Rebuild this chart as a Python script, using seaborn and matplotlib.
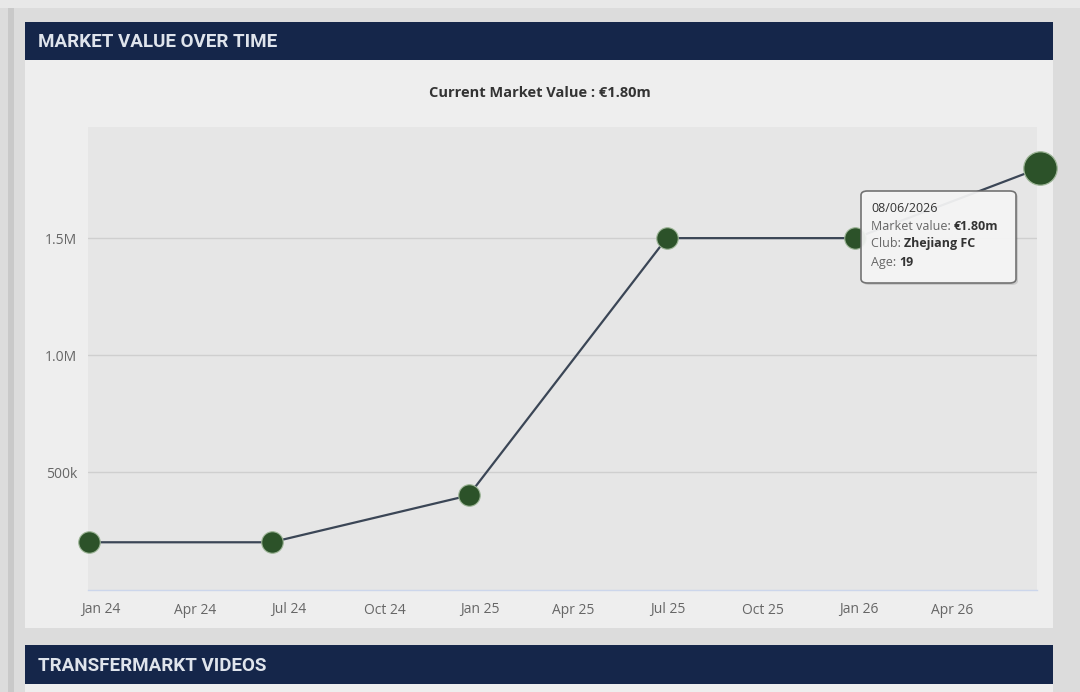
import matplotlib
matplotlib.use("Agg")
import matplotlib.pyplot as plt
from matplotlib.patches import Rectangle, FancyBboxPatch
import seaborn as sns
import pandas as pd

# ---------------- data ----------------
dates = ["2023-12-21", "2024-06-14", "2024-12-21", "2025-06-30", "2025-12-29", "2026-06-25"]
values = [200000, 200000, 400000, 1500000, 1500000, 1800000]
xtick_dates = ["2024-01-01", "2024-04-01", "2024-07-01", "2024-10-01", "2025-01-01",
               "2025-04-01", "2025-07-01", "2025-10-01", "2026-01-01", "2026-04-01"]
xtick_labels = ["Jan 24", "Apr 24", "Jul 24", "Oct 24", "Jan 25",
                "Apr 25", "Jul 25", "Oct 25", "Jan 26", "Apr 26"]
ytick_values = [500000, 1000000, 1500000]
ytick_labels = ["500k", "1.0M", "1.5M"]
chart_title = "Current Market Value : €1.80m"
header_top = "MARKET VALUE OVER TIME"
header_bottom = "TRANSFERMARKT VIDEOS"
tooltip_date = "08/06/2026"
tooltip_rows = [("Market value: ", "€1.80m"), ("Club: ", "Zhejiang FC"), ("Age: ", "19")]

df = pd.DataFrame({"date": pd.to_datetime(dates), "value": values})

# ---------------- style ----------------
sns.set_theme(style="white")
plt.rcParams["font.family"] = ["Open Sans", "DejaVu Sans"]

W, H = 1080, 692
fig = plt.figure(figsize=(W / 100, H / 100), dpi=100)
fig.patch.set_facecolor("#dcdcdc")


def fx(x):
    return x / W


def fy(y):
    return 1 - y / H


def rect(x0, y0, x1, y1, color, z=-5):
    fig.patches.append(Rectangle((fx(x0), fy(y1)), fx(x1) - fx(x0), fy(y0) - fy(y1),
                                 transform=fig.transFigure, facecolor=color,
                                 edgecolor="none", zorder=z))


# page pieces
rect(0, 0, W, 8, "#e8e8e8")
rect(8, 8, 14, H, "#c9c9c9")
rect(25, 22, 1053, 628, "#eeeeee")
rect(25, 22, 1053, 60, "#15264a")
rect(25, 645, 1053, 684, "#15264a")
rect(25, 684, 1053, H, "#eeeeee")

head_font = dict(family=["Roboto", "DejaVu Sans"], fontsize=13.5)
fig.text(fx(38), fy(42), header_top, color="#dfe4ec", fontweight="bold",
         va="center", ha="left", **head_font)
fig.text(fx(38), fy(666), header_bottom, color="#dfe4ec", fontweight="bold",
         va="center", ha="left", **head_font)

fig.text(fx(540), fy(93), chart_title, color="#333333", fontweight="bold",
         fontsize=10.5, ha="center", va="center")

# ---------------- axes ----------------
ax = fig.add_axes([fx(88), fy(590), fx(1037) - fx(88), fy(127) - fy(590)])
ax.set_zorder(1)
ax.set_facecolor("#e6e6e6")

sns.lineplot(data=df, x="date", y="value", ax=ax, color="#3b4656", linewidth=1.6,
             marker="o", markersize=15.5, markerfacecolor="#2c5229",
             markeredgecolor="#9db597", markeredgewidth=0.8, zorder=3, clip_on=False)
last = df.iloc[[-1]]
sns.scatterplot(data=last, x="date", y="value", ax=ax, s=580, color="#2c5229",
                edgecolor="#9db597", linewidth=0.9, zorder=4, clip_on=False)

ax.set_xlim(pd.Timestamp("2023-12-20"), pd.Timestamp("2026-06-22"))
ax.set_ylim(-4000, 1975000)

ax.set_xticks(pd.to_datetime(xtick_dates))
ax.set_xticklabels(xtick_labels)
ax.set_yticks(ytick_values)
ax.set_yticklabels(ytick_labels)
ax.set_xlabel("")
ax.set_ylabel("")

for s in ["top", "right", "left"]:
    ax.spines[s].set_visible(False)
ax.spines["bottom"].set_color("#ccd6eb")
ax.spines["bottom"].set_linewidth(1)

ax.grid(axis="y", color="#cfcfcf", linewidth=1)
ax.grid(axis="x", visible=False)
ax.set_axisbelow(True)

ax.tick_params(axis="x", colors="#ccd6eb", length=5, width=1, direction="out",
               labelcolor="#666666", labelsize=10, pad=4)
ax.tick_params(axis="y", length=0, labelcolor="#666666", labelsize=10, pad=8)

# ---------------- tooltip ----------------
tx0, ty0, tx1, ty1 = 861, 191, 1016, 283
shadow = FancyBboxPatch((fx(tx0 + 2), fy(ty1 + 2)), fx(tx1) - fx(tx0), fy(ty0) - fy(ty1),
                        boxstyle="round,pad=0,rounding_size=0.006",
                        transform=fig.transFigure, facecolor="#000000", alpha=0.12,
                        edgecolor="none", zorder=10)
box = FancyBboxPatch((fx(tx0), fy(ty1)), fx(tx1) - fx(tx0), fy(ty0) - fy(ty1),
                     boxstyle="round,pad=0,rounding_size=0.006",
                     transform=fig.transFigure, facecolor="#f7f7f7", alpha=0.93,
                     edgecolor="#6a6a6a", linewidth=1.2, zorder=11)
fig.patches.append(shadow)
fig.patches.append(box)

fig.text(fx(871), fy(212), tooltip_date, color="#333333", fontsize=9,
         ha="left", va="baseline", zorder=12)
renderer = fig.canvas.get_renderer()
row_y = [230, 247, 266]
for (lab, val), yy in zip(tooltip_rows, row_y):
    t = fig.text(fx(871), fy(yy), lab, color="#666666", fontsize=9,
                 ha="left", va="baseline", zorder=12)
    bb = t.get_window_extent(renderer=renderer)
    fig.text(bb.x1 / W, fy(yy), val, color="#333333", fontsize=9, fontweight="bold",
             ha="left", va="baseline", zorder=12)

fig.savefig("out.png", dpi=100, facecolor=fig.get_facecolor())
